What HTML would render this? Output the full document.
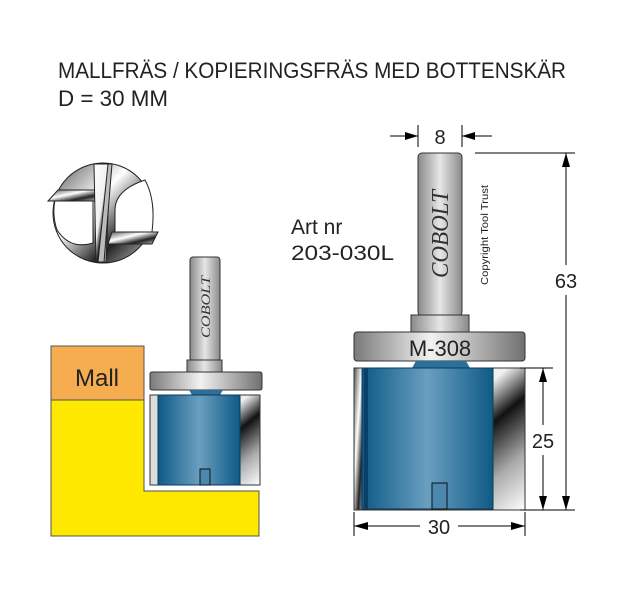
<!DOCTYPE html>
<html><head><meta charset="utf-8"><style>html,body{margin:0;padding:0;background:#fff}svg{display:block}</style></head><body>
<svg width="634" height="596" viewBox="0 0 634 596" xmlns="http://www.w3.org/2000/svg" font-family="Liberation Sans, Arial, sans-serif">
<defs>
<linearGradient id="sh" x1="0" x2="1" y1="0" y2="0">
<stop offset="0" stop-color="#8a8a8a"/><stop offset="0.5" stop-color="#e6e6e6"/><stop offset="1" stop-color="#8a8a8a"/></linearGradient>
<linearGradient id="disc" x1="0" x2="1" y1="0" y2="0">
<stop offset="0" stop-color="#7a7a7a"/><stop offset="0.45" stop-color="#f2f2f2"/><stop offset="1" stop-color="#707070"/></linearGradient>
<linearGradient id="blue" x1="0" x2="1" y1="0" y2="0">
<stop offset="0" stop-color="#0e5a86"/><stop offset="0.5" stop-color="#6a9fc0"/><stop offset="1" stop-color="#0e5a86"/></linearGradient>
<linearGradient id="chr" x1="0" x2="1" y1="0" y2="1">
<stop offset="0" stop-color="#fff"/><stop offset="0.45" stop-color="#f0f0f0"/><stop offset="0.6" stop-color="#111"/><stop offset="0.8" stop-color="#aaa"/><stop offset="1" stop-color="#fff"/></linearGradient>
<linearGradient id="chr2" x1="0" x2="1" y1="0" y2="1">
<stop offset="0" stop-color="#555"/><stop offset="0.4" stop-color="#fff"/><stop offset="0.7" stop-color="#222"/><stop offset="1" stop-color="#ccc"/></linearGradient>
</defs>
<text x="58" y="78" font-size="22" fill="#222" textLength="508" lengthAdjust="spacingAndGlyphs">MALLFRÄS / KOPIERINGSFRÄS MED BOTTENSKÄR</text>
<text x="58" y="106" font-size="22" fill="#222" textLength="110" lengthAdjust="spacingAndGlyphs">D = 30 MM</text>
<text x="291" y="234" font-size="21" fill="#222">Art nr</text>
<text x="291" y="260" font-size="21" fill="#222" textLength="103" lengthAdjust="spacingAndGlyphs">203-030L</text>

<!-- chuck circle -->
<circle cx="103" cy="213" r="50" fill="url(#chr2)" stroke="#222"/>
<path d="M55 200 L93 200 L93 243 Q70 250 57 230 Q52 215 55 200Z" fill="#fff" stroke="#222"/>
<path d="M115 232 L115 210 Q115 190 145 180 Q156 200 152 232Z" fill="#fff" stroke="#222"/>
<polygon points="58,190 100,190 96,201 48,201" fill="url(#chr2)" stroke="#222"/>
<polygon points="112,232 158,232 152,244 108,244" fill="url(#chr2)" stroke="#222"/>
<polygon points="94,164 110,164 106,262 96,262" fill="url(#chr)" stroke="#222"/>
<polygon points="108,164 112,164 104,262 98,262" fill="#bbb" stroke="#222"/>

<!-- mall & workpiece -->
<rect x="51" y="346" width="93" height="54" fill="#F5AD4F" stroke="#555"/>
<text x="97" y="386" font-size="24" fill="#222" text-anchor="middle">Mall</text>
<polygon points="51,400 144,400 144,491 259,491 259,536 51,536" fill="#FFE800" stroke="#555"/>

<!-- small tool -->
<rect x="190" y="257" width="30" height="104" rx="3" fill="url(#sh)" stroke="#333"/>
<text transform="translate(210,338) rotate(-90)" font-family="Liberation Serif, serif" font-style="italic" font-size="13" fill="#333" textLength="62" lengthAdjust="spacingAndGlyphs">COBOLT</text>
<rect x="187" y="360" width="35" height="12" fill="url(#sh)" stroke="#333"/>
<rect x="150" y="372" width="112" height="18" rx="2" fill="url(#disc)" stroke="#333"/>
<rect x="150" y="395" width="110" height="90" fill="url(#chr)" stroke="#333"/>
<rect x="150" y="395" width="8" height="90" fill="#ddd" stroke="#333"/>
<path d="M189 390 L223 390 L220 395 L192 395Z" fill="#2b6f9a"/>
<rect x="158" y="395" width="82" height="90" fill="url(#blue)" stroke="#0a3a5a"/>
<rect x="200" y="469" width="10" height="16" fill="#4a88b0" stroke="#111"/>

<!-- big tool -->
<rect x="418" y="153" width="44" height="163" rx="4" fill="url(#sh)" stroke="#333"/>
<text transform="translate(448,278) rotate(-90)" font-family="Liberation Serif, serif" font-style="italic" font-size="24" fill="#333" textLength="88" lengthAdjust="spacingAndGlyphs">COBOLT</text>
<text transform="translate(488,285) rotate(-90)" font-size="10" fill="#222" textLength="100" lengthAdjust="spacingAndGlyphs">Copyright Tool Trust</text>
<rect x="411" y="315" width="58" height="17" fill="url(#sh)" stroke="#333"/>
<rect x="354" y="332" width="171" height="29" rx="3" fill="url(#disc)" stroke="#333"/>
<text x="440" y="356" font-size="22" fill="#222" text-anchor="middle">M-308</text>
<path d="M416 361 L466 361 L470 368 L412 368Z" fill="#2b6f9a"/>
<rect x="354" y="368" width="171" height="142" fill="url(#chr)" stroke="#333"/>
<rect x="354" y="368" width="10" height="142" fill="url(#chr2)" stroke="#333"/>
<rect x="362" y="368" width="131" height="141" fill="url(#blue)" stroke="#0a3a5a"/>
<rect x="364" y="368" width="4" height="141" fill="#0a3f66"/>
<rect x="432" y="483" width="15" height="26" fill="#4a88b0" stroke="#111"/>

<!-- dimensions -->
<g stroke="#000" stroke-width="1" fill="none">
<line x1="418" y1="125" x2="418" y2="147"/><line x1="462" y1="125" x2="462" y2="147"/>
<line x1="390" y1="136" x2="418" y2="136"/><line x1="462" y1="136" x2="492" y2="136"/>
<line x1="475" y1="153" x2="575" y2="153"/><line x1="520" y1="510" x2="575" y2="510"/>
<line x1="566" y1="153" x2="566" y2="265"/><line x1="566" y1="295" x2="566" y2="510"/>
<line x1="520" y1="368" x2="553" y2="368"/>
<line x1="543" y1="368" x2="543" y2="425"/><line x1="543" y1="455" x2="543" y2="510"/>
<line x1="354" y1="512" x2="354" y2="536"/><line x1="525" y1="512" x2="525" y2="536"/>
<line x1="354" y1="526" x2="420" y2="526"/><line x1="458" y1="526" x2="525" y2="526"/>
</g>
<g fill="#000">
<polygon points="418,136 405,132 405,140"/><polygon points="462,136 475,132 475,140"/>
<polygon points="566,153 562,167 570,167"/><polygon points="566,510 562,496 570,496"/>
<polygon points="543,368 539,382 547,382"/><polygon points="543,510 539,496 547,496"/>
<polygon points="354,526 368,522 368,530"/><polygon points="525,526 511,522 511,530"/>
</g>
<text x="440" y="144" font-size="20" fill="#222" text-anchor="middle">8</text>
<text x="566" y="288" font-size="20" fill="#222" text-anchor="middle">63</text>
<text x="543" y="448" font-size="20" fill="#222" text-anchor="middle">25</text>
<text x="439" y="534" font-size="20" fill="#222" text-anchor="middle">30</text>
</svg>
</body></html>
